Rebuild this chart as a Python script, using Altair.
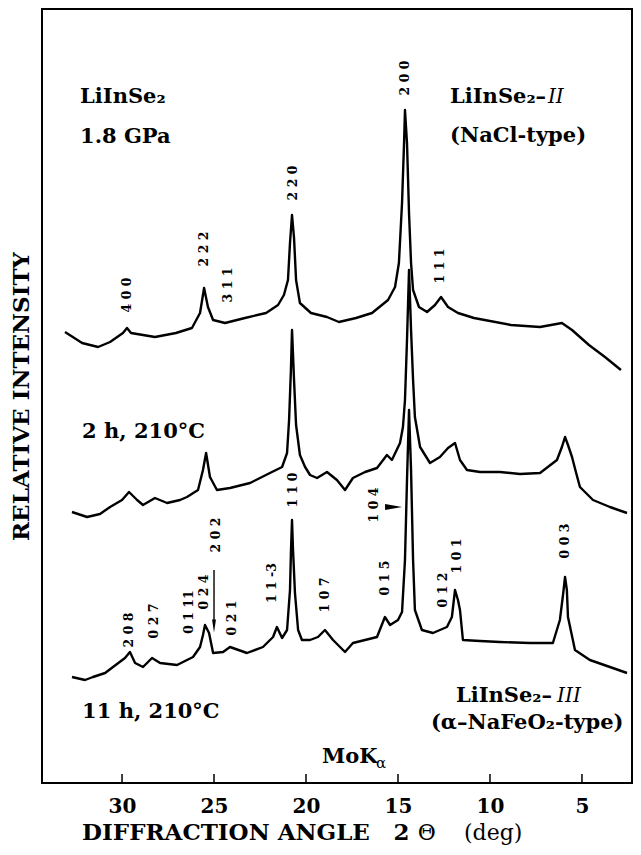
import altair as alt
import pandas as pd

# ---------------- data ----------------
# x: diffraction angle 2-theta (deg); y: relative intensity (arbitrary units, scans offset)
scan1_deg = [33.10, 32.17, 31.30, 30.65, 29.95, 29.73, 29.51, 28.86, 28.21, 27.07, 26.20, 25.76,
             25.54, 25.33, 25.05, 24.40, 23.32, 22.17, 21.52, 21.20, 20.98, 20.87, 20.76, 20.65,
             20.54, 20.33, 19.73, 18.86, 18.21, 17.28, 16.41, 15.54, 15.16, 14.95, 14.78, 14.67,
             14.62, 14.51, 14.40, 14.29, 14.18, 13.86, 13.42, 12.99, 12.66, 12.28, 11.74, 10.87,
             8.86, 7.28, 6.09, 5.54, 4.62, 3.75, 2.88]
scan1_int = [451, 440, 436, 441, 450, 455, 450, 448, 446, 450, 455, 470,
             495, 476, 463, 460, 465, 470, 478, 488, 503, 540, 568, 545,
             503, 480, 470, 466, 461, 465, 470, 483, 496, 520, 580, 640,
             673, 640, 570, 520, 493, 476, 471, 478, 486, 476, 470, 465,
             458, 456, 460, 453, 438, 426, 413]

scan2_deg = [32.72, 31.90, 31.20, 30.65, 30.00, 29.62, 29.18, 28.86, 28.21, 27.55, 26.85, 26.47,
             25.87, 25.60, 25.43, 25.22, 24.84, 24.13, 23.04, 21.96, 21.30, 21.03, 20.92, 20.82,
             20.76, 20.65, 20.54, 20.33, 20.05, 19.78, 19.40, 18.86, 18.32, 17.88, 17.45, 16.79,
             16.14, 15.60, 15.33, 14.89, 14.73, 14.62, 14.51, 14.40, 14.29, 14.18, 14.08, 13.80,
             13.26, 12.72, 12.28, 11.90, 11.63, 11.25, 10.54, 9.46, 8.37, 7.28, 6.36, 6.09,
             5.92, 5.76, 5.54, 5.33, 5.11, 4.40, 3.48, 2.55]
scan2_int = [271, 266, 269, 276, 283, 291, 283, 278, 285, 280, 283, 286,
             293, 313, 330, 306, 293, 295, 300, 310, 316, 330, 363, 413,
             453, 403, 358, 328, 316, 308, 305, 311, 303, 293, 305, 311,
             315, 328, 323, 340, 356, 383, 443, 513, 453, 403, 366, 336,
             320, 326, 335, 340, 323, 313, 311, 311, 309, 310, 323, 336,
             346, 338, 326, 311, 296, 283, 276, 270]

scan3_deg = [32.72, 32.01, 31.58, 30.92, 30.49, 29.84, 29.57, 29.29, 28.86, 28.37, 27.93, 27.01,
             26.14, 25.76, 25.60, 25.49, 25.27, 25.05, 24.51, 24.13, 23.21, 22.34, 21.79, 21.58,
             21.30, 21.03, 20.87, 20.82, 20.76, 20.71, 20.60, 20.43, 20.22, 19.78, 19.35, 18.97,
             18.53, 17.88, 17.45, 16.79, 16.14, 15.71, 15.43, 15.00, 14.78, 14.62, 14.51, 14.40,
             14.29, 14.18, 14.08, 13.70, 13.10, 12.34, 12.07, 11.90, 11.74, 11.63, 11.47, 10.54,
             9.46, 7.83, 6.58, 6.20, 6.03, 5.92, 5.82, 5.76, 5.38, 4.57, 3.48, 2.55]
scan3_int = [106, 103, 106, 110, 116, 125, 131, 120, 116, 125, 120, 118,
             126, 136, 148, 158, 150, 130, 131, 136, 130, 136, 146, 156,
             145, 153, 193, 230, 263, 235, 190, 153, 143, 143, 146, 153,
             143, 131, 140, 143, 146, 166, 158, 163, 171, 223, 303, 373,
             313, 223, 173, 153, 150, 156, 166, 193, 183, 173, 143, 142,
             141, 140, 140, 163, 188, 206, 193, 166, 133, 123, 116, 110]

tick_values = [30, 25, 20, 15, 10, 5]

# reflection labels (hkl), position = (deg, intensity)
hkl_text = ["4  0  0", "2  2  2", "3  1  1", "2  2  0", "2  0  0", "1  1  1",
            "1  1  0", "1  0  4", "2  0  2", "0  0  3", "1  0  1", "0  1  2", "0  1  5",
            "1  0  7", "1  1  -3", "0  2  4", "0  1  11", "0  2  1", "0  2  7", "2  0  8"]
hkl_deg = [29.73, 25.54, 24.24, 20.71, 14.62, 12.72,
           20.71, 16.30, 24.89, 5.92, 11.79, 12.55, 15.71,
           18.97, 21.85, 25.54, 26.36, 24.02, 28.26, 29.62]
hkl_int = [488, 534, 498, 600, 705, 517,
           293, 278, 248, 242, 227, 193, 205,
           188, 200, 191, 171, 165, 162, 153]

# bold captions
cap_text = ["LiInSe\u2082", "1.8 GPa", "LiInSe\u2082\u2013", "(NaCl-type)", "2 h, 210\u00b0C",
            "11 h, 210\u00b0C", "LiInSe\u2082\u2013", "(\u03b1\u2013NaFeO\u2082-type)", "MoK"]
cap_deg = [32.28, 32.28, 12.17, 12.17, 32.17, 32.17, 11.85, 13.21, 19.13]
cap_int = [680, 640, 680, 641, 345, 65, 81, 54, 20]

# italic phase numbers
ital_text = ["II", "III"]
ital_deg = [6.85, 6.35]
ital_int = [680, 81]

# subscript alpha of MoK-alpha
sub_text = ["\u03b1"]
sub_deg = [16.20]
sub_int = [15]

# x-axis title pieces
xt_bold_text = ["DIFFRACTION ANGLE", "2"]
xt_bold_deg = [32.17, 15.25]
xt_reg_text = ["\u0398", "(deg)"]
xt_reg_deg = [13.92, 11.41]
xt_int = -57

# arrows
arrow_deg = [25.0]
arrow_top = [213]
arrow_bot = [160]
head_down_deg = [25.0]
head_down_int = [157]
head_right_deg = [15.24]
head_right_int = [276]

# ---------------- build tables ----------------
rows = []
for name, d, v in [("1.8 GPa", scan1_deg, scan1_int),
                   ("2 h", scan2_deg, scan2_int),
                   ("11 h", scan3_deg, scan3_int)]:
    for a, b in zip(d, v):
        rows.append({"scan": name, "deg": a, "int": b})
scans = pd.DataFrame(rows)

hkl = pd.DataFrame({"deg": hkl_deg, "int": hkl_int, "t": hkl_text})
caps = pd.DataFrame({"deg": cap_deg, "int": cap_int, "t": cap_text})
itals = pd.DataFrame({"deg": ital_deg, "int": ital_int, "t": ital_text})
subs = pd.DataFrame({"deg": sub_deg, "int": sub_int, "t": sub_text})
xtb = pd.DataFrame({"deg": xt_bold_deg, "int": [xt_int] * len(xt_bold_deg), "t": xt_bold_text})
xtr = pd.DataFrame({"deg": xt_reg_deg, "int": [xt_int] * len(xt_reg_deg), "t": xt_reg_text})
ticks = pd.DataFrame({"deg": tick_values})
arrow = pd.DataFrame({"deg": arrow_deg, "int": arrow_top, "int2": arrow_bot})
hdown = pd.DataFrame({"deg": head_down_deg, "int": head_down_int})
hright = pd.DataFrame({"deg": head_right_deg, "int": head_right_int})

SERIF = "DejaVu Serif"
xscale = alt.Scale(domain=[2.28, 34.35], reverse=True, nice=False, zero=False)
yscale = alt.Scale(domain=[0, 774], nice=False, zero=False)

X = alt.X("deg:Q", scale=xscale,
          axis=alt.Axis(values=tick_values, ticks=False, domain=False, grid=False,
                        labelFont=SERIF, labelFontWeight="bold", labelFontSize=20,
                        labelPadding=13, labelColor="black", title=None, format="d"))
Y = alt.Y("int:Q", scale=yscale,
          axis=alt.Axis(title="RELATIVE INTENSITY", labels=False, ticks=False, domain=False,
                        grid=False, titleFont=SERIF, titleFontSize=23, titleFontWeight="bold",
                        titlePadding=9, titleColor="black"))


def txt(df, **kw):
    base = dict(font=SERIF, color="black", align="left", baseline="alphabetic")
    base.update(kw)
    return alt.Chart(df).mark_text(**base).encode(x=X, y=Y, text="t:N")


lines = alt.Chart(scans).mark_line(color="black", strokeWidth=2.4, strokeJoin="round").encode(
    x=X, y=Y, detail="scan:N")

tick_marks = alt.Chart(ticks).mark_rule(color="black", strokeWidth=1.5).encode(
    x=X, y=alt.value(774), y2=alt.value(765))

hkl_layer = txt(hkl, angle=270, fontWeight="bold", fontSize=12.5, align="center", baseline="middle")
cap_layer = txt(caps, fontWeight="bold", fontSize=21)
ital_layer = txt(itals, fontStyle="italic", fontSize=20)
sub_layer = txt(subs, fontSize=15)
xtb_layer = txt(xtb, fontWeight="bold", fontSize=23)
xtr_layer = txt(xtr, fontSize=22)

arrow_line = alt.Chart(arrow).mark_rule(color="black", strokeWidth=1.4).encode(
    x=X, y=Y, y2="int2:Q")

head_d = alt.Chart(hdown).mark_point(shape="M-0.3,-1L0.3,-1L0,1Z", filled=True, color="black",
                                     opacity=1, size=169).encode(x=X, y=Y)
head_r = alt.Chart(hright).mark_point(shape="M-1,-0.35L1,0L-1,0.35Z", filled=True, color="black",
                                      opacity=1, size=289).encode(x=X, y=Y)

chart = alt.layer(lines, tick_marks, hkl_layer, cap_layer, ital_layer, sub_layer,
                  xtb_layer, xtr_layer, arrow_line, head_d, head_r).properties(
    width=590, height=774,
    autosize=alt.AutoSizeParams(type="none"),
    padding={"left": 34, "top": 1, "right": 1, "bottom": 64},
    background="white",
).configure_view(stroke="black", strokeWidth=2)

chart.save("out.html", embed_options={"renderer": "svg", "actions": False})
